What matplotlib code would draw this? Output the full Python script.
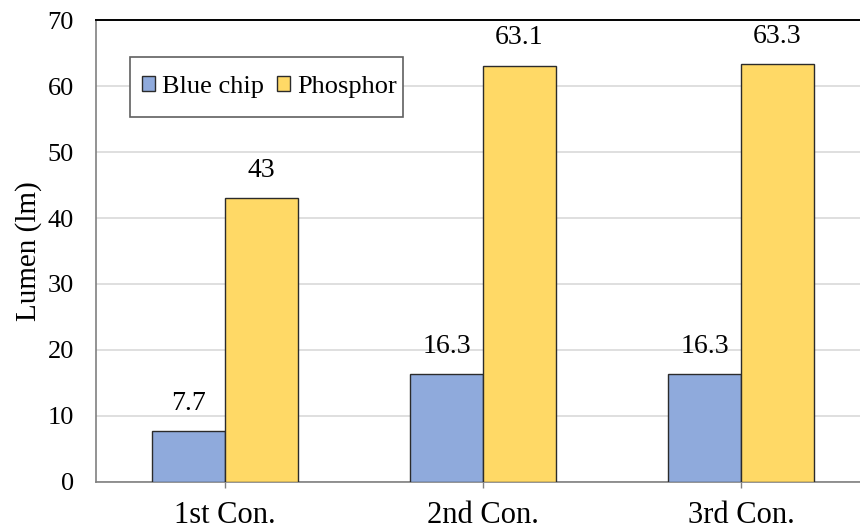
import numpy as np
import matplotlib
matplotlib.use('Agg')
import matplotlib.pyplot as plt
from matplotlib.patches import Rectangle

plt.rcParams['font.family'] = ['Liberation Serif', 'DejaVu Serif']

categories = ['1st Con.', '2nd Con.', '3rd Con.']
blue_chip = [7.7, 16.3, 16.3]
phosphor = [43, 63.1, 63.3]
blue_labels = ['7.7', '16.3', '16.3']
phosphor_labels = ['43', '63.1', '63.3']

fig = plt.figure(figsize=(8.6, 5.31), dpi=100)
ax = fig.add_axes([96/860, 49/531, 764/860, 462/531])

x = np.arange(len(categories))
w = 0.283
b1 = ax.bar(x - w/2, blue_chip, w, color='#8FAADC', edgecolor='#2B2B2B', linewidth=1, label='Blue chip', zorder=3)
b2 = ax.bar(x + w/2, phosphor, w, color='#FFD966', edgecolor='#2B2B2B', linewidth=1, label='Phosphor', zorder=3)

# value labels above bars
for rect, txt in zip(b1, blue_labels):
    ax.annotate(txt, (rect.get_x() + rect.get_width()/2, rect.get_height()),
                xytext=(0, 11), textcoords='offset points', ha='center', va='bottom', fontsize=20)
for rect, txt in zip(b2, phosphor_labels):
    ax.annotate(txt, (rect.get_x() + rect.get_width()/2, rect.get_height()),
                xytext=(0, 11), textcoords='offset points', ha='center', va='bottom', fontsize=20)

ax.set_xlim(-0.5, 2.461)
ax.set_ylim(0, 70)
ax.set_yticks(np.arange(0, 71, 10))
ax.set_xticks(x)
ax.set_xticklabels(categories)
ax.yaxis.grid(True, color='#D9D9D9', linewidth=1.2, zorder=0)
ax.set_axisbelow(True)

ax.tick_params(axis='y', length=0, pad=16, labelsize=19)
ax.tick_params(axis='x', direction='out', length=4.5, width=1, color='#808080', pad=9, labelsize=22)

ax.spines['right'].set_visible(False)
ax.spines['top'].set_color('black')
ax.spines['top'].set_linewidth(1.4)
ax.spines['left'].set_color('#808080')
ax.spines['left'].set_linewidth(1.2)
ax.spines['bottom'].set_color('#808080')
ax.spines['bottom'].set_linewidth(1.2)

ax.set_ylabel('Lumen (lm)', fontsize=21, labelpad=4)

# legend box drawn separately so the padding can be uneven
box = Rectangle((130/860, 1 - 117/531), 273/860, 60/531, transform=fig.transFigure,
                facecolor='white', edgecolor='#606060', linewidth=1.2, zorder=5)
fig.patches.append(box)
leg = fig.legend(handles=[b1, b2], loc='center left', bbox_to_anchor=(142/860, 1 - 87/531), ncol=2,
                 fontsize=19, frameon=False,
                 handlelength=0.5, handleheight=0.5, handletextpad=0.25, columnspacing=0.5,
                 borderpad=0, borderaxespad=0)
leg.set_zorder(6)

fig.savefig('out.png', dpi=100)
